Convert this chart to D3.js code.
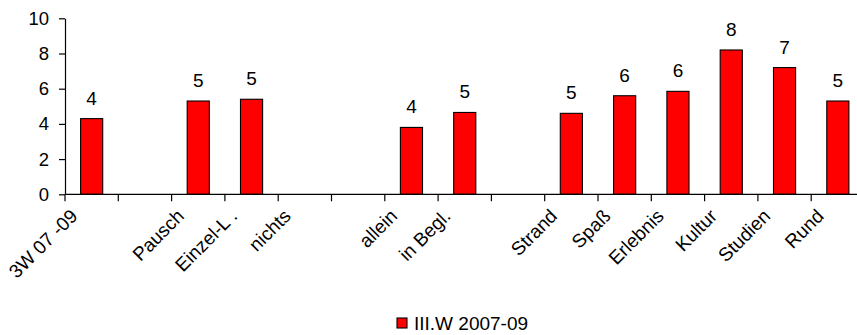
<!DOCTYPE html>
<html>
<head>
<meta charset="utf-8">
<script src="https://cdn.jsdelivr.net/npm/d3@7"></script>
<style>
  html, body { margin: 0; padding: 0; background: #fff; }
  svg { display: block; font-family: "Liberation Sans", Arial, sans-serif; }
</style>
</head>
<body>
<svg id="chart" width="857" height="335"></svg>
<script>
// Category labels (blank slots act as group separators)
const categories = ["3W 07 -09", "", "Pausch", "Einzel-L .", "nichts", "", "allein", "in Begl.", "", "Strand", "Spaß", "Erlebnis", "Kultur", "Studien", "Rund"];
// Series values (null = no bar)
const values = [4.3, null, 5.3, 5.4, null, null, 3.8, 4.65, null, 4.6, 5.6, 5.85, 8.2, 7.2, 5.3];
const seriesName = "III.W 2007-09";
const yTicks = [0, 2, 4, 6, 8, 10];

const svg = d3.select("#chart");
const plotLeft = 65, plotRight = 864.5, plotTop = 18.3, plotBottom = 194.3;
const fontSize = 19;

const x = d3.scaleBand()
  .domain(categories.map((d, i) => i))
  .range([plotLeft, plotRight])
  .paddingInner(0.585)
  .paddingOuter(0.2925);

const y = d3.scaleLinear().domain([0, 10]).range([plotBottom, plotTop]);

// Y axis
const yAxis = svg.append("g")
  .attr("transform", `translate(${plotLeft},0)`)
  .call(d3.axisLeft(y).tickValues(yTicks).tickSize(6).tickSizeOuter(0).tickPadding(10));
yAxis.select(".domain").attr("stroke", "#000").attr("stroke-width", 1.2);
yAxis.selectAll(".tick line").attr("stroke", "#000").attr("stroke-width", 1.2);
yAxis.selectAll(".tick text")
  .attr("font-size", 18.5).attr("fill", "#000")
  .attr("font-family", "Liberation Sans, Arial, sans-serif");

// Bars
const step = x.step();
const bw = x.bandwidth();
const data = categories.map((c, i) => ({ i, c, v: values[i] }));

svg.append("g").selectAll("rect")
  .data(data.filter(d => d.v != null))
  .join("rect")
  .attr("x", d => x(d.i))
  .attr("y", d => y(d.v))
  .attr("width", bw)
  .attr("height", d => y(0) - y(d.v))
  .attr("fill", "#ff0000")
  .attr("stroke", "#000")
  .attr("stroke-width", 1.1);

// Value labels
svg.append("g").selectAll("text")
  .data(data.filter(d => d.v != null))
  .join("text")
  .attr("x", d => x(d.i) + bw / 2)
  .attr("y", d => y(d.v) - 14)
  .attr("text-anchor", "middle")
  .attr("font-size", fontSize)
  .attr("fill", "#000")
  .text(d => Math.round(d.v));

// X axis line and slot-boundary ticks
const xAxis = svg.append("g");
xAxis.append("line")
  .attr("x1", plotLeft).attr("x2", plotRight)
  .attr("y1", y(0)).attr("y2", y(0))
  .attr("stroke", "#000").attr("stroke-width", 1.2);
xAxis.selectAll("line.tick")
  .data(d3.range(categories.length + 1))
  .join("line")
  .attr("class", "tick")
  .attr("x1", i => plotLeft + i * step).attr("x2", i => plotLeft + i * step)
  .attr("y1", y(0)).attr("y2", y(0) + 7)
  .attr("stroke", "#000").attr("stroke-width", 1.2);

// Rotated category labels
xAxis.selectAll("text")
  .data(data.filter(d => d.c !== ""))
  .join("text")
  .attr("transform", d => `translate(${x(d.i) + bw / 2 - 13},${y(0) + 23}) rotate(-45)`)
  .attr("text-anchor", "end")
  .attr("font-size", fontSize)
  .attr("fill", "#000")
  .text(d => d.c);

// Legend
const legend = svg.append("g").attr("transform", "translate(397,318)");
legend.append("rect")
  .attr("width", 10).attr("height", 10)
  .attr("fill", "#ff0000").attr("stroke", "#000").attr("stroke-width", 1.1);
legend.append("text")
  .attr("x", 17).attr("y", 11.5)
  .attr("font-size", fontSize).attr("fill", "#000")
  .text(seriesName);
</script>
</body>
</html>
